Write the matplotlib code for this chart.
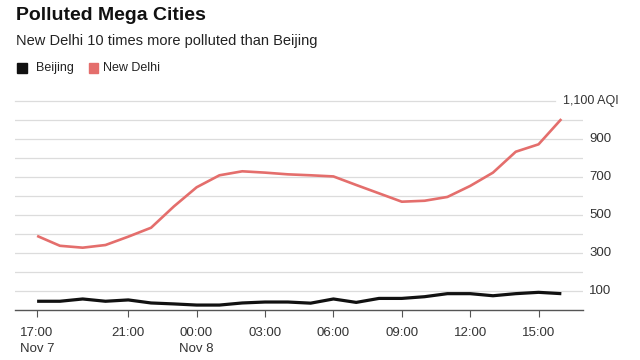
import matplotlib

matplotlib.use("Agg")
import matplotlib.pyplot as plt
from matplotlib.patches import Rectangle

plt.rcParams["font.family"] = ["Liberation Sans", "DejaVu Sans"]

# hourly readings, 17:00 Nov 7 .. 16:00 Nov 8
hours = list(range(24))
new_delhi = [390, 338, 328, 342, 386, 433, 545, 646, 709, 730, 723, 714, 709,
             703, 658, 614, 570, 575, 595, 653, 723, 833, 872, 1005]
beijing = [46, 46, 58, 46, 53, 37, 32, 26, 26, 37, 42, 42, 36,
           58, 40, 61, 61, 70, 86, 86, 75, 86, 93, 86]

tick_pos = [0, 4, 7, 10, 13, 16, 19, 22]
tick_labels = ["17:00\nNov 7", "21:00", "00:00\nNov 8", "03:00", "06:00",
               "09:00", "12:00", "15:00"]
y_labels = [100, 300, 500, 700, 900]
grid_vals = list(range(100, 1100, 100))

RED = "#e46e6c"
BLACK = "#111111"
GRID = "#dcdcdc"

fig = plt.figure(figsize=(6.4, 3.6), dpi=100)
ax = fig.add_axes([15 / 640, 50 / 360, 568 / 640, 209 / 360])
ax.set_xlim(-0.97, 23.95)
ax.set_ylim(0, 1100)

for v in grid_vals:
    ax.axhline(v, color=GRID, lw=0.9, zorder=1)
ax.axhline(1100, xmax=(555 - 15) / 568, color=GRID, lw=0.9, zorder=1, clip_on=False)

ax.plot(hours, new_delhi, color=RED, lw=1.9, zorder=3, solid_capstyle="butt")
ax.plot(hours, beijing, color=BLACK, lw=2.3, zorder=3, solid_capstyle="butt")

for s in ["top", "right", "left"]:
    ax.spines[s].set_visible(False)
ax.spines["bottom"].set_color("#555555")
ax.spines["bottom"].set_linewidth(1.0)
ax.set_yticks([])
ax.set_xticks(tick_pos)
ax.set_xticklabels(tick_labels, fontsize=9.5, color="#333333", ha="center",
                   multialignment="left", va="top", linespacing=1.45)
ax.tick_params(axis="x", length=5, width=0.8, color="#555555", pad=7)

ytrans = ax.get_yaxis_transform()
for v in y_labels:
    ax.text((589 - 15) / 568, v, f"{v}", transform=ytrans, fontsize=9.5,
            color="#333333", ha="left", va="center")
ax.text((563 - 15) / 568, 1100, "1,100 AQI", transform=ytrans, fontsize=9,
        color="#333333", ha="left", va="center")

fig.text(16 / 640, 1 - 15 / 360, "Polluted Mega Cities", fontsize=14,
         fontweight="bold", ha="left", va="center", color="#111111")
fig.text(16 / 640, 1 - 41 / 360, "New Delhi 10 times more polluted than Beijing",
         fontsize=10.5, ha="left", va="center", color="#222222")

fig.patches.append(Rectangle((17 / 640, 1 - 73 / 360), 10 / 640, 10 / 360,
                             transform=fig.transFigure, color=BLACK))
fig.text(36 / 640, 1 - 68 / 360, "Beijing", fontsize=9, ha="left", va="center",
         color="#222222")
fig.patches.append(Rectangle((89 / 640, 1 - 73 / 360), 9 / 640, 10 / 360,
                             transform=fig.transFigure, color=RED))
fig.text(103 / 640, 1 - 68 / 360, "New Delhi", fontsize=9, ha="left", va="center",
         color="#222222")

fig.savefig("out.png", dpi=100)
